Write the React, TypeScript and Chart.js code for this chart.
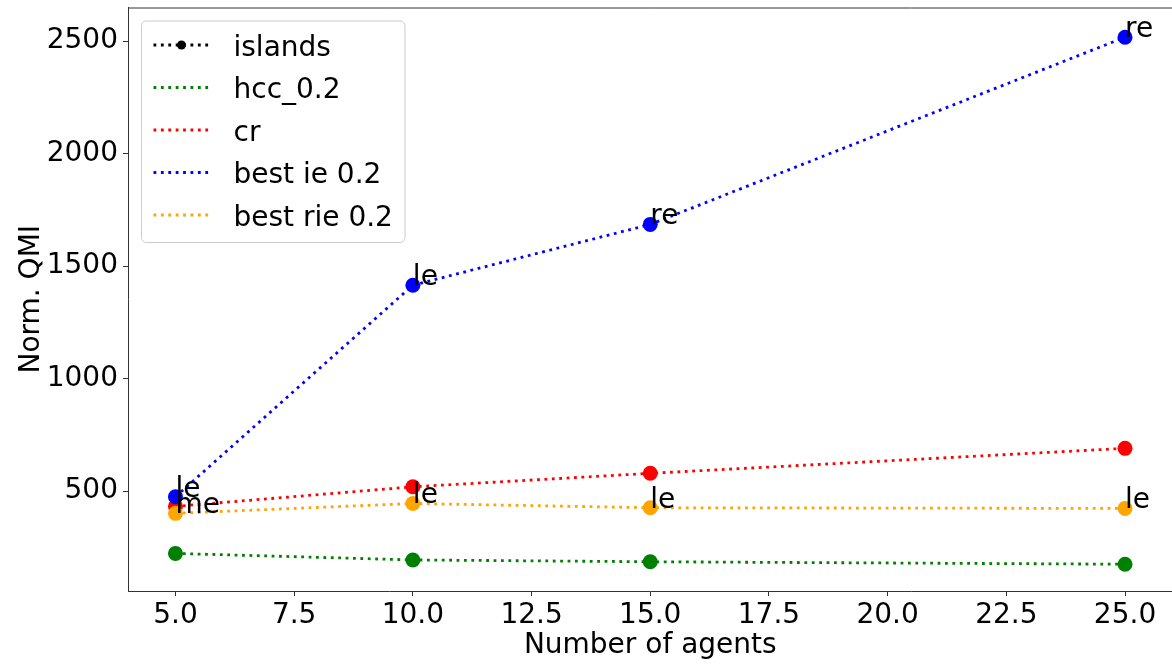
import React, { useEffect, useRef } from 'react';
import { Chart, registerables } from 'chart.js';

Chart.register(...registerables);

// ---- data ----
const agents = [5, 10, 15, 25];
const islands: number[] = [];
const hcc = [223, 194, 186, 175];
const cr = [432, 519, 579, 690];
const bestIe = [475, 1415, 1685, 2517];
const bestRie = [401, 445, 426, 423];
const ieNotes = ['le', 'le', 're', 're'];
const rieNotes = ['me', 'le', 'le', 'le'];
const xTicks = [5, 7.5, 10, 12.5, 15, 17.5, 20, 22.5, 25];
const yTicks = [500, 1000, 1500, 2000, 2500];
const seriesNames = ['islands', 'hcc_0.2', 'cr', 'best ie 0.2', 'best rie 0.2'];
const seriesColors = ['#000000', '#008000', '#ff0000', '#0000ff', '#ffa500'];

const FONT = '"DejaVu Sans", sans-serif';
const FS = 28;
const DASH = [2.8, 4.6];
const LW = 2.8;

const toPts = (vals: number[]) => vals.map((v, i) => ({ x: agents[i], y: v }));

const annotPlugin = {
  id: 'annot',
  afterDatasetsDraw(chart: any) {
    const { ctx, scales } = chart;
    const x = scales.x;
    const y = scales.y;
    ctx.save();
    ctx.font = `${FS}px ${FONT}`;
    ctx.fillStyle = '#000';
    ctx.textAlign = 'left';
    ctx.textBaseline = 'alphabetic';
    const draw = (vals: number[], notes: string[]) =>
      agents.forEach((a, i) => {
        ctx.fillText(notes[i], x.getPixelForValue(a), y.getPixelForValue(vals[i]));
      });
    draw(bestIe, ieNotes);
    draw(bestRie, rieNotes);
    ctx.restore();
  },
};

const framePlugin = {
  id: 'frame',
  afterDraw(chart: any) {
    const { ctx, chartArea: ca } = chart;
    ctx.save();
    ctx.strokeStyle = '#333';
    ctx.lineWidth = 1;
    ctx.beginPath();
    ctx.moveTo(ca.left, ca.top + 0.5);
    ctx.lineTo(ca.right, ca.top + 0.5);
    ctx.lineTo(ca.right, ca.bottom);
    ctx.stroke();
    ctx.restore();
  },
};

const legendPlugin = {
  id: 'mplLegend',
  afterDraw(chart: any) {
    const { ctx, chartArea: ca } = chart;
    const bx = ca.left + 13.5;
    const by = ca.top + 13.5;
    const bw = 263.5;
    const bh = 221.5;
    ctx.save();
    ctx.beginPath();
    ctx.roundRect(bx, by, bw, bh, 5);
    ctx.fillStyle = 'rgba(255,255,255,0.8)';
    ctx.fill();
    ctx.strokeStyle = '#cccccc';
    ctx.lineWidth = 1;
    ctx.stroke();
    seriesNames.forEach((name, i) => {
      const ry = by + 24 + i * 42.5;
      const x0 = bx + 12;
      const x1 = bx + 68;
      ctx.strokeStyle = seriesColors[i];
      ctx.lineWidth = LW;
      ctx.setLineDash(DASH);
      ctx.beginPath();
      ctx.moveTo(x0, ry);
      ctx.lineTo(x1, ry);
      ctx.stroke();
      ctx.setLineDash([]);
      if (i === 0) {
        ctx.fillStyle = seriesColors[i];
        ctx.beginPath();
        ctx.arc((x0 + x1) / 2, ry, 4.5, 0, Math.PI * 2);
        ctx.fill();
      }
      ctx.fillStyle = '#000';
      ctx.font = `${FS}px ${FONT}`;
      ctx.textAlign = 'left';
      ctx.textBaseline = 'alphabetic';
      ctx.fillText(name, bx + 92, ry + 10.5);
    });
    ctx.restore();
  },
};

export default function App() {
  const ref = useRef<HTMLCanvasElement>(null);

  useEffect(() => {
    const prevMargin = document.body.style.margin;
    document.body.style.margin = '0';
    const canvas = ref.current!;
    const mk = (label: string, vals: number[], color: string, order: number) => ({
      label,
      data: toPts(vals),
      borderColor: color,
      backgroundColor: color,
      pointBackgroundColor: color,
      pointBorderColor: color,
      pointRadius: 7.5,
      pointBorderWidth: 0,
      borderWidth: LW,
      borderDash: DASH,
      fill: false,
      tension: 0,
      order,
    });
    const chart = new Chart(canvas, {
      type: 'line',
      data: {
        datasets: [
          mk(seriesNames[0], islands, seriesColors[0], 5),
          mk(seriesNames[1], hcc, seriesColors[1], 4),
          mk(seriesNames[2], cr, seriesColors[2], 3),
          mk(seriesNames[3], bestIe, seriesColors[3], 2),
          mk(seriesNames[4], bestRie, seriesColors[4], 1),
        ] as any,
      },
      options: {
        responsive: false,
        animation: false,
        devicePixelRatio: 1,
        layout: { padding: { left: 0, top: 7, right: 4, bottom: 0 } },
        plugins: { legend: { display: false }, tooltip: { enabled: false } },
        scales: {
          x: {
            type: 'linear',
            min: 4,
            max: 26,
            afterBuildTicks: (s: any) => {
              s.ticks = xTicks.map((v) => ({ value: v }));
            },
            afterFit: (s: any) => {
              s.height = 73;
              s.paddingLeft = 0;
              s.paddingRight = 0;
              s.paddingTop = 0;
              s.paddingBottom = 0;
            },
            ticks: {
              color: '#000',
              font: { family: FONT, size: FS },
              padding: 3,
              maxRotation: 0,
              autoSkip: false,
              callback: (v: any) => Number(v).toFixed(1),
            },
            grid: { display: true, drawOnChartArea: false, drawTicks: true, tickLength: 5, color: '#333', lineWidth: 1 },
            border: { display: true, color: '#333', width: 1 },
            title: {
              display: true,
              text: 'Number of agents',
              color: '#000',
              font: { family: FONT, size: FS },
              padding: { top: 0, bottom: 1 },
            },
          },
          y: {
            type: 'linear',
            min: 56,
            max: 2649,
            afterBuildTicks: (s: any) => {
              s.ticks = yTicks.map((v) => ({ value: v }));
            },
            afterFit: (s: any) => {
              s.width = 128;
              s.paddingLeft = 0;
              s.paddingRight = 0;
              s.paddingTop = 0;
              s.paddingBottom = 0;
            },
            ticks: {
              color: '#000',
              font: { family: FONT, size: FS },
              padding: 5,
              autoSkip: false,
              callback: (v: any) => String(v),
            },
            grid: { display: true, drawOnChartArea: false, drawTicks: true, tickLength: 5, color: '#333', lineWidth: 1 },
            border: { display: true, color: '#333', width: 1 },
            title: {
              display: true,
              text: 'Norm. QMI',
              color: '#000',
              font: { family: FONT, size: FS },
              padding: { top: 15, bottom: 0 },
            },
          },
        },
      } as any,
      plugins: [annotPlugin, framePlugin, legendPlugin],
    });
    return () => {
      chart.destroy();
      document.body.style.margin = prevMargin;
    };
  }, []);

  return (
    <div style={{ position: 'fixed', left: 0, top: 0, width: 1172, height: 664, overflow: 'hidden', background: '#fff' }}>
      <canvas ref={ref} width={1180} height={664} style={{ display: 'block', width: 1180, height: 664 }} />
    </div>
  );
}
